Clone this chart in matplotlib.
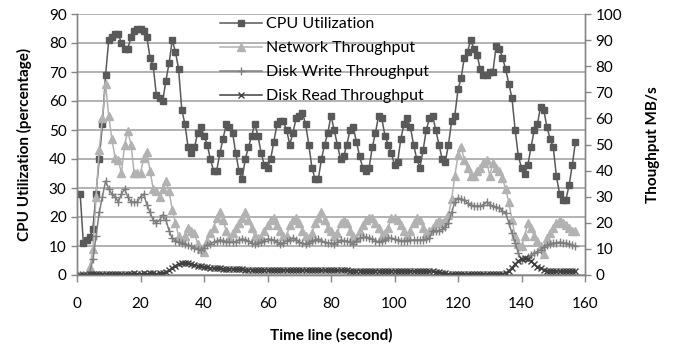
import numpy as np
import matplotlib
matplotlib.use("Agg")
import matplotlib.pyplot as plt

plt.rcParams['font.family'] = ['Lato', 'DejaVu Sans']

# values, one per second (t = 1..157)
cpu = [28, 11, 12, 13, 16, 28, 40, 52, 69, 81, 82, 83, 83, 80, 78, 78, 82, 84, 85, 85,
       84, 82, 75, 72, 62, 61, 60, 67, 73, 81, 77, 71, 57,
       52, 44, 42, 44, 49, 51, 48, 45, 40, 36, 36, 42, 47, 52, 51, 49, 42, 36, 33, 40,
       44, 48, 52, 48, 42, 38, 37, 40, 46, 52, 53, 53, 50,
       45, 49, 54, 55, 56, 52, 45, 37, 33, 33, 40, 45, 49, 55, 50, 45, 40, 41, 45, 50,
       51, 46, 41, 37, 36, 37, 44, 49, 55, 54, 48, 45, 42,
       38, 39, 47, 52, 54, 51, 45, 40, 37, 43, 50, 54, 55, 50, 45, 40, 39, 45, 53, 55,
       64, 68, 75, 77, 81, 78, 76, 71, 69, 69, 70, 70, 79,
       78, 75, 71, 66, 61, 50, 41, 37, 35, 38, 44, 50, 52, 58, 57, 51, 47, 44, 34, 28,
       26, 26, 31, 38, 46]

network = [0, 0, 0, 3, 10, 30, 48, 60, 73, 61, 52, 45, 44, 39, 50, 55, 50, 39, 39, 39,
           45, 47, 40, 33, 32, 30, 33, 36, 32, 25, 20, 15, 13, 15, 18, 17, 16, 12, 10, 9,
           13, 16, 18, 22, 24, 21, 17, 14, 16, 18, 20, 22, 24, 21, 18, 15, 14, 14, 17, 19,
           21, 22, 19, 17, 15, 15, 19, 21, 22, 20, 17, 15, 14, 16, 20, 22, 24, 21, 18, 17,
           15, 16, 20, 21, 20, 17, 15, 14, 17, 19, 21, 22, 22, 20, 18, 15, 16, 18, 22, 22,
           21, 19, 17, 15, 17, 20, 22, 21, 18, 16, 17, 18, 20, 21, 20, 21, 23, 29, 38, 46,
           49, 44, 41, 38, 38, 40, 41, 43, 44, 38, 43, 41, 40, 37, 33, 28, 21, 15, 12, 11,
           15, 20, 18, 15, 13, 11, 8, 14, 16, 18, 20, 21, 20, 19, 18, 17, 17]

disk_write = [0, 0, 0, 1, 6, 15, 24, 30, 36, 33, 31, 30, 28, 31, 33, 30, 28, 28, 28, 30,
              31, 27, 24, 21, 20, 21, 23, 21, 17, 14, 13, 12.5, 12.3, 12, 11.5, 11, 10.3, 10, 9.6, 10.5,
              11.5, 12, 12.6, 13, 13.4, 13.2, 12.8, 12.6, 12.6, 12.8, 13.4, 13.8, 13.6, 13, 12.4, 11.9, 12.2, 12.6, 13.2, 13.8,
              13.6, 13.4, 12.6, 11.9, 12.4, 13, 13.6, 14.2, 13.6, 12.6, 12.2, 11.9, 12.4, 13, 13.6, 13.8, 13.2, 12.6, 12.3, 12.2,
              12, 12.6, 13.4, 13.2, 13, 12.5, 12, 13, 14.2, 14.4, 14.6, 14.2, 13.8, 13.2, 12.6, 13, 13.4, 14, 14.2, 13.8,
              13.4, 13.2, 13, 13.2, 13.4, 13.4, 13.4, 13.4, 13.6, 13.8, 14, 17, 17, 17, 17.5, 18.4, 20, 24, 28, 29.5,
              29, 28.7, 27.5, 26.8, 26.6, 26.4, 26.6, 26.8, 28, 27, 26.4, 26, 25.7, 24.5, 23.8, 20, 16, 12.3, 8.4, 5.7,
              6.3, 6.9, 7.6, 8.4, 9, 9.6, 10.7, 11.4, 12, 12.2, 12.4, 12.6, 12.4, 12.2, 12, 11.5, 11.1]

disk_read = [0, 0, 0, 0.2, 0.3, 0.3, 0.4, 0.4, 0.5, 0.5, 0.5, 0.4, 0.5, 0.5, 0.4, 0.5, 0.5, 0.6, 0.5, 0.5,
             0.6, 0.5, 0.6, 0.6, 0.5, 0.6, 0.6, 1.0, 1.8, 2.8, 3.6, 4.3, 4.6, 4.7, 4.5, 4.2, 3.9, 3.6, 3.3, 3.1,
             3.0, 2.8, 2.7, 2.6, 2.5, 2.4, 2.4, 2.3, 2.3, 2.2, 2.2, 2.2, 2.1, 2.1, 2.1, 2.0, 2.0, 2.0, 2.0, 2.0,
             1.9, 1.9, 1.9, 1.9, 1.9, 1.9, 1.9, 1.9, 1.9, 1.9, 1.9, 1.9, 1.9, 1.9, 1.9, 1.8, 1.8, 1.8, 1.8, 1.8,
             1.8, 1.8, 1.8, 1.8, 1.8, 1.7, 1.7, 1.7, 1.7, 1.7, 1.7, 1.7, 1.7, 1.7, 1.6, 1.6, 1.6, 1.6, 1.6, 1.6,
             1.6, 1.6, 1.6, 1.6, 1.5, 1.5, 1.5, 1.5, 1.5, 1.5, 1.5, 1.5, 1.2, 1.0, 0.8, 0.6, 0.5, 0.4, 0.4, 0.4,
             0.4, 0.4, 0.4, 0.4, 0.4, 0.4, 0.4, 0.4, 0.4, 0.4, 0.4, 0.4, 0.4, 0.4, 0.8, 1.6, 2.8, 4.2, 5.4, 6.2,
             6.4, 6.0, 5.2, 4.2, 3.2, 2.5, 2.0, 1.7, 1.6, 1.6, 1.5, 1.5, 1.5, 1.5, 1.5, 1.5, 1.5]

t = np.arange(1, len(cpu) + 1)

x_ticks = [0, 20, 40, 60, 80, 100, 120, 140, 160]
cpu_ticks = [0, 10, 20, 30, 40, 50, 60, 70, 80, 90]
mb_ticks = [0, 10, 20, 30, 40, 50, 60, 70, 80, 90, 100]

fig = plt.figure(figsize=(6.73, 3.52), dpi=100)
ax = fig.add_axes([77 / 673, 77 / 352, 508 / 673, 261 / 352])
ax2 = ax.twinx()

axis_col = '#868686'
grid_col = '#a6a6a6'

l1, = ax.plot(t, cpu, color='#595959', lw=1.1, marker='s', ms=4.2,
              label='CPU Utilization')
l2, = ax2.plot(t, network, color='#b2b2b2', lw=1.1, marker='^', ms=6,
               label='Network Throughput')
l3, = ax2.plot(t, disk_write, color='#7f7f7f', lw=1.1, marker='+', ms=5.5,
               mew=1.0, label='Disk Write Throughput')
l4, = ax2.plot(t, disk_read, color='#404040', lw=1.1, marker='x', ms=4,
               mew=1.0, label='Disk Read Throughput')

ax.set_xlim(0, 160)
ax.set_ylim(0, 90)
ax2.set_ylim(0, 100)
ax.set_xticks(x_ticks)
ax.set_yticks(cpu_ticks)
ax2.set_yticks(mb_ticks)

ax.yaxis.grid(True, color=grid_col, lw=1.2)
ax.set_axisbelow(True)

for a in (ax, ax2):
    a.spines['top'].set_visible(False)
    for s in ('left', 'right', 'bottom'):
        a.spines[s].set_color(axis_col)
        a.spines[s].set_linewidth(1.0)
    a.tick_params(colors=axis_col, labelcolor='black', labelsize=11,
                  length=4, width=1.0)
ax.tick_params(axis='x', length=5, pad=11)

ax.set_xlabel('Time line (second)', fontsize=11, fontweight='bold', labelpad=12)
ax.set_ylabel('CPU Utilization (percentage)', fontsize=11, fontweight='bold',
              labelpad=12)
ax2.set_ylabel('Thoughput MB/s', fontsize=11, fontweight='bold', labelpad=17)

fig.legend(handles=[l1, l2, l3, l4], loc='upper left',
           bbox_to_anchor=(220 / 673, 1 - 17 / 352), frameon=False,
           fontsize=11.5, handlelength=2.6, handletextpad=0.25, labelspacing=0.62,
           borderaxespad=0, borderpad=0)

fig.savefig('out.png', dpi=100)
